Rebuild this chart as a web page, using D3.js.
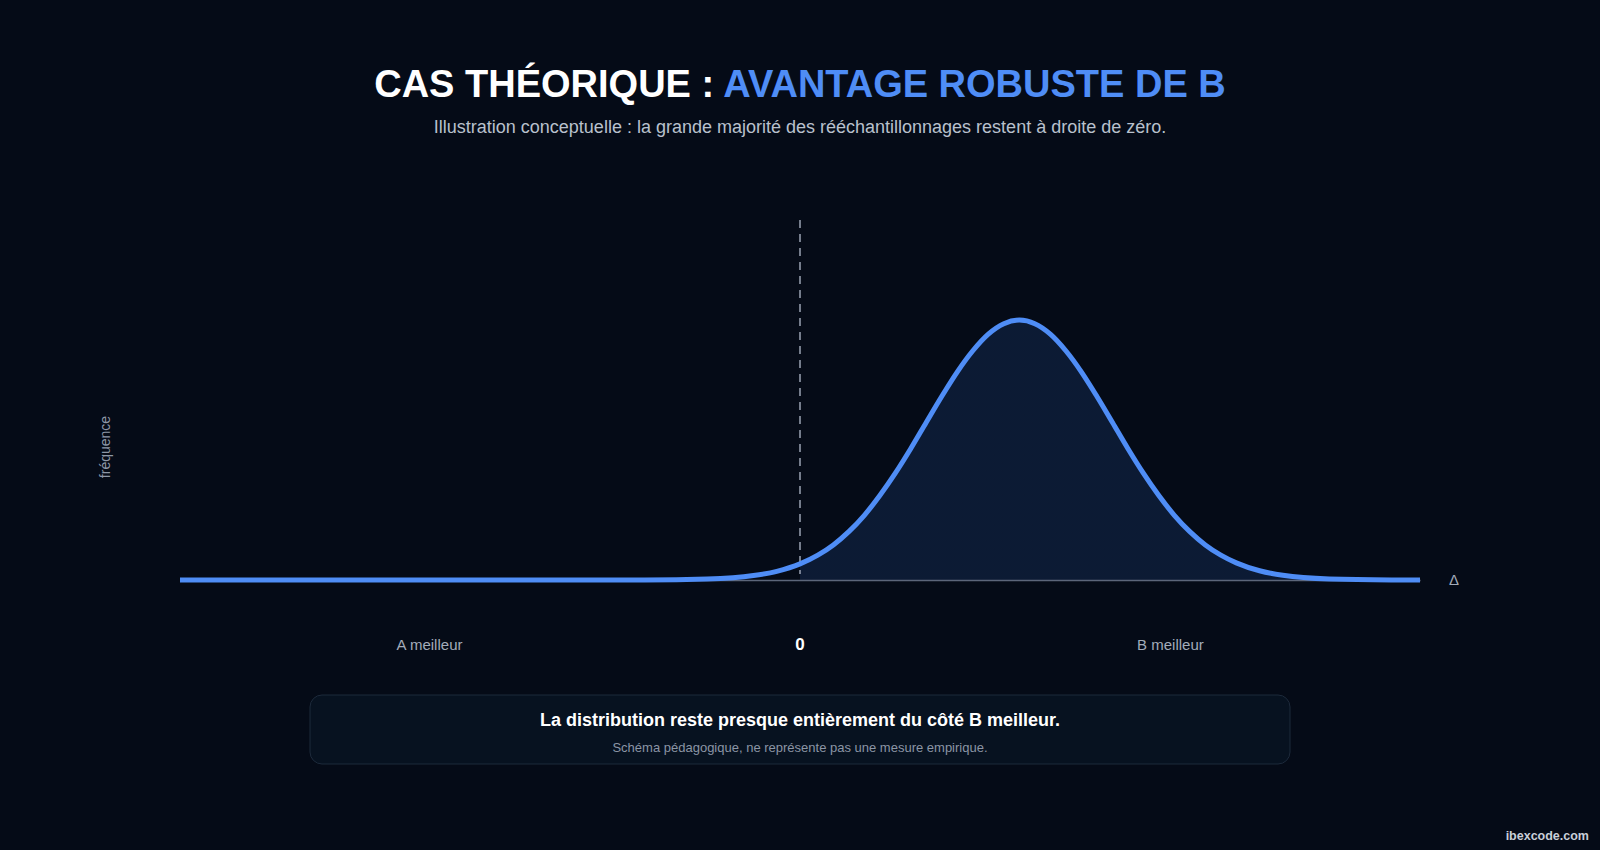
<!DOCTYPE html>
<html><head><meta charset="utf-8">
<script src="https://cdn.jsdelivr.net/npm/d3@7"></script>
<style>
html,body{margin:0;padding:0;background:#050b17;}
svg{display:block;}
</style></head>
<body>
<script>
// Data (relative frequency of the bootstrap differences Δ)
const deltaValues = [-4, -2, -1, -0.6, -0.3, -0.15, 0, 0.115, 0.215, 0.315, 0.415, 0.515, 0.615, 0.715, 0.815, 0.915, 1.015, 1.115, 1.215, 1.315, 1.415, 1.515, 1.615, 1.715, 1.815, 1.915, 2.015, 2.115, 2.215, 2.315, 2.415, 2.515, 2.615, 2.715, 2.815, 2.965, 3.115, 3.415, 3.815, 4];
const frequencyValues = [0, 0, 0.0003, 0.0037, 0.017, 0.0333, 0.062, 0.0956, 0.135, 0.186, 0.249, 0.325, 0.411, 0.506, 0.607, 0.707, 0.801, 0.882, 0.946, 0.986, 1, 0.986, 0.946, 0.882, 0.801, 0.707, 0.607, 0.506, 0.411, 0.325, 0.249, 0.186, 0.135, 0.0956, 0.066, 0.0355, 0.018, 0.0039, 0.0003, 0];
const sideLabels = [{x: -2.39, label: "A meilleur"}, {x: 0, label: "0"}, {x: 2.39, label: "B meilleur"}];
const titleParts = ["CAS THÉORIQUE : ", "AVANTAGE ROBUSTE DE B"];
const subtitle = "Illustration conceptuelle : la grande majorité des rééchantillonnages restent à droite de zéro.";
const noteTitle = "La distribution reste presque entièrement du côté B meilleur.";
const noteSub = "Schéma pédagogique, ne représente pas une mesure empirique.";

const W = 1600, H = 850;
const font = "'Liberation Sans', Arial, Helvetica, sans-serif";
const blue = "#4f8df6";

const svg = d3.select("body").append("svg").attr("width", W).attr("height", H);
svg.append("rect").attr("width", W).attr("height", H).attr("fill", "#050b17");

const data = deltaValues.map((d, i) => ({x: d, y: frequencyValues[i]}));

const x = d3.scaleLinear().domain([-4, 4]).range([180, 1420]);
const y = d3.scaleLinear().domain([0, 1.385]).range([580, 220]);

// Title
const t = svg.append("text").attr("x", W / 2).attr("y", 97).attr("text-anchor", "middle")
  .attr("font-family", font).attr("font-weight", 700).attr("font-size", 38);
t.append("tspan").attr("fill", "#ffffff").text(titleParts[0]);
t.append("tspan").attr("fill", blue).text(titleParts[1]);

svg.append("text").attr("x", W / 2).attr("y", 133).attr("text-anchor", "middle")
  .attr("font-family", font).attr("font-size", 18).attr("fill", "#b9c1cd").text(subtitle);

// Area (B side only)
const defs = svg.append("defs");
const cp = defs.append("clipPath").attr("id", "rightSide");
cp.append("rect").attr("x", x(0)).attr("y", 0).attr("width", x(4) - x(0)).attr("height", y(0));
const grad = defs.append("linearGradient").attr("id", "fillGrad").attr("x1", 0).attr("x2", 1).attr("y1", 0).attr("y2", 0);
grad.append("stop").attr("offset", "0%").attr("stop-color", "#3b82f6").attr("stop-opacity", 0.06);
grad.append("stop").attr("offset", "40%").attr("stop-color", "#3b82f6").attr("stop-opacity", 0.13);
grad.append("stop").attr("offset", "100%").attr("stop-color", "#3b82f6").attr("stop-opacity", 0.13);

const area = d3.area().x(d => x(d.x)).y0(y(0)).y1(d => y(d.y)).curve(d3.curveMonotoneX);
svg.append("path").datum(data).attr("d", area).attr("fill", "url(#fillGrad)").attr("clip-path", "url(#rightSide)");

// Baseline axis
const xAxis = d3.axisBottom(x).tickValues([]).tickSizeOuter(0);
const ax = svg.append("g").attr("transform", `translate(0,${y(0)})`).call(xAxis);
ax.select(".domain").attr("stroke", "#5c667a").attr("stroke-width", 1.5);

// Zero dashed line
svg.append("line").attr("x1", x(0)).attr("x2", x(0)).attr("y1", 220).attr("y2", y(0) - 6)
  .attr("stroke", "#9aa4b4").attr("stroke-width", 1.5).attr("stroke-dasharray", "8,6");

// Curve
const line = d3.line().x(d => x(d.x)).y(d => y(d.y)).curve(d3.curveMonotoneX);
svg.append("path").datum(data).attr("d", line).attr("fill", "none")
  .attr("stroke", blue).attr("stroke-width", 5).attr("stroke-linejoin", "round");

// Δ label
svg.append("text").attr("x", 1454).attr("y", y(0) + 5).attr("text-anchor", "middle")
  .attr("font-family", font).attr("font-size", 15).attr("fill", "#a3acba").text("Δ");

// y label
svg.append("text").attr("transform", `translate(110,447) rotate(-90)`).attr("text-anchor", "middle")
  .attr("font-family", font).attr("font-size", 14).attr("fill", "#8d97a7").text("fréquence");

// side labels
svg.selectAll(".side").data(sideLabels).enter().append("text")
  .attr("x", d => x(d.x)).attr("y", 650).attr("text-anchor", "middle")
  .attr("font-family", font)
  .attr("font-size", d => d.x === 0 ? 17 : 15)
  .attr("font-weight", d => d.x === 0 ? 700 : 400)
  .attr("fill", d => d.x === 0 ? "#ffffff" : "#a3acba")
  .text(d => d.label);

// Note box
svg.append("rect").attr("x", 310).attr("y", 695).attr("width", 980).attr("height", 69).attr("rx", 12)
  .attr("fill", "#071220").attr("stroke", "#1d2a3b").attr("stroke-width", 1);
svg.append("text").attr("x", W / 2).attr("y", 726).attr("text-anchor", "middle")
  .attr("font-family", font).attr("font-weight", 700).attr("font-size", 18).attr("fill", "#ffffff").text(noteTitle);
svg.append("text").attr("x", W / 2).attr("y", 752).attr("text-anchor", "middle")
  .attr("font-family", font).attr("font-size", 13).attr("fill", "#8b95a5").text(noteSub);

// watermark
svg.append("text").attr("x", 1589).attr("y", 840).attr("text-anchor", "end")
  .attr("font-family", font).attr("font-weight", 700).attr("font-size", 12.5).attr("fill", "#c9cfd9").text("ibexcode.com");
</script>
</body></html>
